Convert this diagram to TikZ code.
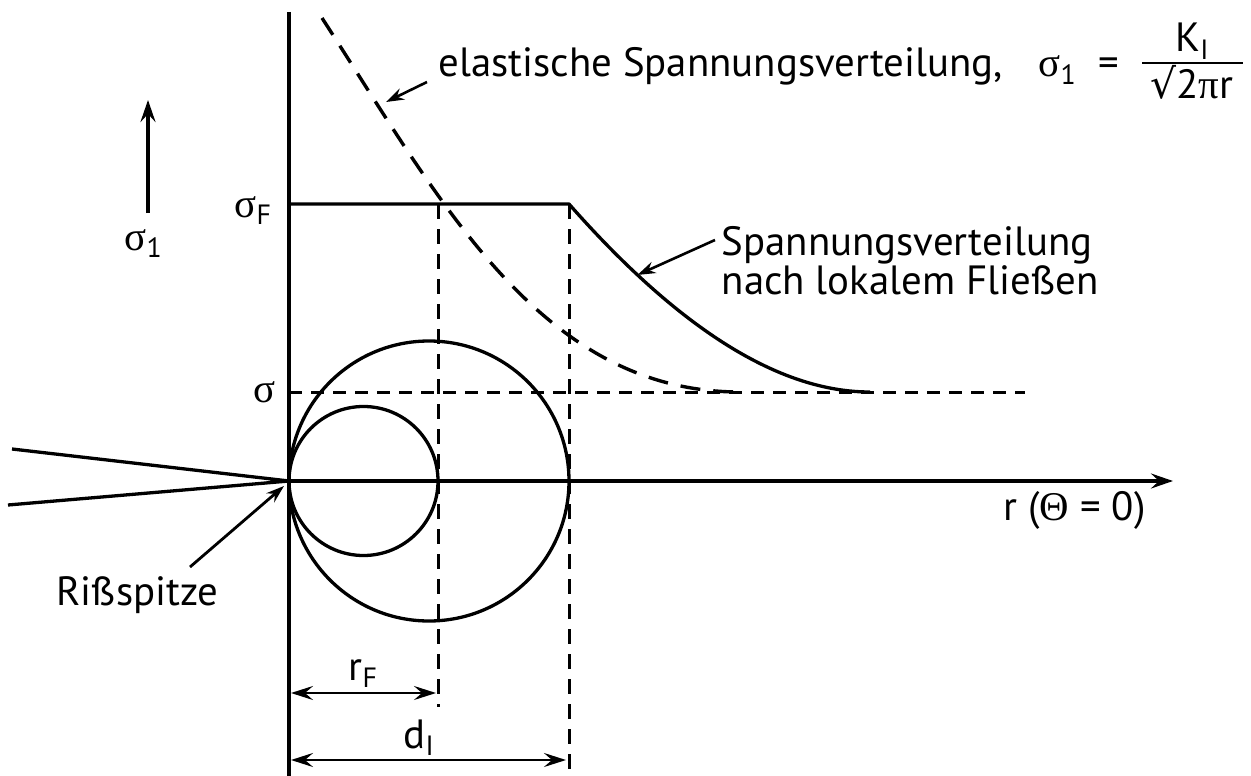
\documentclass[tikz,border=0pt]{standalone}
\usepackage{fontspec}
\setmainfont{PT Sans}
\newfontfamily\grf{Liberation Serif}
\newfontfamily\symf{DejaVu Sans}
\usetikzlibrary{arrows.meta}
\newcommand\lowsub[1]{\raisebox{-0.35ex}{\fontsize{28}{28}\selectfont #1}}
\begin{document}
\begin{tikzpicture}[x=1bp,y=-1bp,line width=3.3bp,line join=round,
  lbl/.style={inner sep=0pt,font=\fontsize{41}{46}\selectfont},
  tip/.style={-{Stealth[length=22bp,width=15bp,inset=8bp]}},
  ltip/.style={-{Stealth[length=18bp,width=12bp,inset=6bp]}},
  dimarrow/.style={{Stealth[length=22bp,width=14bp,inset=8bp]}-{Stealth[length=22bp,width=14bp,inset=8bp]}},
  dshv/.style={line width=3bp,dash pattern=on 15bp off 10bp},
  dshh/.style={line width=3bp,dash pattern=on 13bp off 9bp},
  dshc/.style={line width=3.4bp,dash pattern=on 20bp off 13bp}]
\useasboundingbox (0,0) rectangle (1251,776);
% axes
\coordinate (O) at (289,481);
\coordinate (ytop) at (289,12);
\coordinate (ybot) at (289,776);
\coordinate (xend) at (1173,481);
\draw (ytop) -- (ybot);
\draw[tip] (O) -- (xend);
% crack
\coordinate (c1) at (12,449);
\coordinate (c2) at (8,505);
\draw (c1) -- (O) -- (c2);
% circles
\coordinate (cs) at (363.5,481);
\coordinate (cb) at (429,481);
\draw (cs) circle[radius=74.5bp];
\draw (cb) circle[radius=140bp];
% sigma levels
\coordinate (sF0) at (289,204);
\coordinate (sF1) at (569,204);
\coordinate (sF2) at (438,204);
\coordinate (s0) at (289,392);
\coordinate (s1) at (1025,392);
\draw[dshh] (s0) -- (s1);
\draw[dshv] (sF2) -- (438,707) coordinate (rFbot);
\draw[dshv] (sF1) -- (569,776) coordinate (dIbot);
% plastic distribution
\draw (sF0) -- (sF1) .. controls (680,330) and (780,392) .. (870,392) coordinate (pend);
\path (sF1) .. controls (680,330) and (780,392) .. (870,392) coordinate[pos=0.21] (ptip);
% elastic distribution
\coordinate (e0) at (322,18);
\coordinate (e1) at (740,392);
\draw[dshc] (e0) .. controls (440,200) and (540,392) .. (e1);
% labels
\node[lbl,anchor=base west] (elast) at (437,77) {elastische Spannungsverteilung,};
\node[lbl,anchor=base west] (sig1) at (1037,77) {{\grf σ}\lowsub{1}};
\node[lbl,anchor=base west] (eq) at (1097,77) {=};
\coordinate (fl0) at (1142,63);
\coordinate (fl1) at (1243,63);
\draw[line width=1.8bp] (fl0) -- (fl1);
\node[lbl,anchor=base] (KI) at (1192,52) {K\lowsub{I}};
\node[lbl,anchor=base] (den) at (1192,99) {{\symf √}2{\grf π}r};
\coordinate (ea) at (427,82);
\coordinate (eb) at (386,102);
\draw[ltip,line width=2.6bp] (ea) -- (eb);

\node[lbl,anchor=base west] (plast1) at (720,255) {Spannungsverteilung};
\node[lbl,anchor=base west] (plast2) at (720,294) {nach lokalem Fließen};
\coordinate (pa) at (715,240);
\draw[ltip,line width=2.6bp] (pa) -- (ptip);

% sigma_1 arrow
\coordinate (sa0) at (148,213);
\coordinate (sa1) at (148,100);
\draw[tip] (sa0) -- (sa1);
\node[lbl,anchor=base west] (sig1l) at (123,250) {{\grf σ}\lowsub{1}};
\node[lbl,anchor=base west] (sigF) at (233,217) {{\grf σ}\lowsub{F}};
\node[lbl,anchor=base west] (sig) at (252,402) {{\grf σ}};
\node[lbl,anchor=base west] (rlab) at (1002,520) {r ({\grf Θ} = 0)};

% crack tip label
\node[lbl,anchor=base west] (riss) at (55,605) {Rißspitze};
\coordinate (ra) at (190,567);
\draw[ltip,line width=2.8bp] (ra) -- (284,486);

% dimensions
\draw[dimarrow,line width=2.6bp] (291,693) -- (436,693);
\node[lbl,anchor=base west] (rF) at (347,680) {r\lowsub{F}};
\draw[dimarrow,line width=2.6bp] (291,760) -- (566,760);
\node[lbl,anchor=base west] (dI) at (402,748) {d\lowsub{I}};
\end{tikzpicture}
\end{document}
